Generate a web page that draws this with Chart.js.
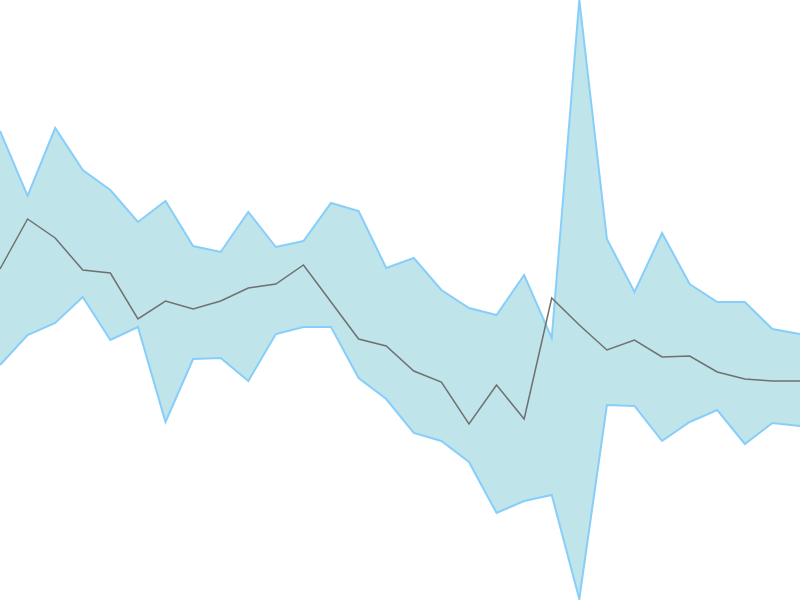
<!DOCTYPE html>
<html>
<head>
    <meta charset="UTF-8">
    <title>Band chart</title>
    <script src="https://cdn.jsdelivr.net/npm/chart.js@4/dist/chart.umd.min.js"></script>
    <style>
        html, body { margin: 0; padding: 0; background: #fff; }
        #wrap { width: 800px; height: 600px; }
    </style>
</head>
<body>
    <div id="wrap"><canvas id="chart"></canvas></div>

    <script>
        var labels = ['1','2','3','4','5','6','7','8','9','10','11','12','13','14','15',
                      '16','17','18','19','20','21','22','23','24','25','26','27','28','29','30'];
        var upper = [46.9, 40.4, 47.2, 43.0, 41.0, 37.8, 39.9, 35.4, 34.8, 38.8, 35.3, 35.9, 39.7, 38.9, 33.2,
                     34.2, 31.0, 29.2, 28.5, 32.5, 26.2, 60.0, 36.1, 30.8, 36.7, 31.6, 29.8, 29.8, 27.1, 26.6];
        var middle = [33.1, 38.1, 36.2, 33.0, 32.7, 28.1, 29.9, 29.1, 29.9, 31.2, 31.6, 33.5, 29.8, 26.1, 25.4,
                      22.9, 21.8, 17.6, 21.5, 18.1, 30.2, 27.5, 25.0, 26.0, 24.3, 24.4, 22.8, 22.1, 21.9, 21.9];
        var lower = [23.5, 26.5, 27.7, 30.3, 26.0, 27.3, 17.8, 24.1, 24.2, 21.9, 26.6, 27.3, 27.3, 22.2, 20.1,
                     16.7, 15.9, 13.8, 8.7, 9.9, 10.5, 0.1, 19.5, 19.4, 15.9, 17.8, 19.0, 15.6, 17.7, 17.4];

        new Chart(document.getElementById('chart'), {
            type: 'line',
            data: {
                labels: labels,
                datasets: [{
                    data: middle,
                    borderColor: 'rgb(112, 112, 112)',
                    borderWidth: 1.5,
                    pointRadius: 0,
                    fill: false,
                    tension: 0
                }, {
                    data: upper,
                    borderColor: 'rgb(135, 206, 250)',
                    borderWidth: 2,
                    pointRadius: 0,
                    fill: false,
                    tension: 0
                }, {
                    data: lower,
                    borderColor: 'rgb(135, 206, 250)',
                    backgroundColor: 'rgb(191, 228, 234)',
                    borderWidth: 2,
                    pointRadius: 0,
                    fill: '-1',
                    tension: 0
                }]
            },
            options: {
                responsive: true,
                maintainAspectRatio: false,
                animation: false,
                layout: { padding: 0 },
                plugins: { legend: { display: false }, tooltip: { enabled: false } },
                scales: {
                    x: { display: false },
                    y: { display: false, min: 0, max: 60 }
                }
            }
        });
    </script>
</body>
</html>
